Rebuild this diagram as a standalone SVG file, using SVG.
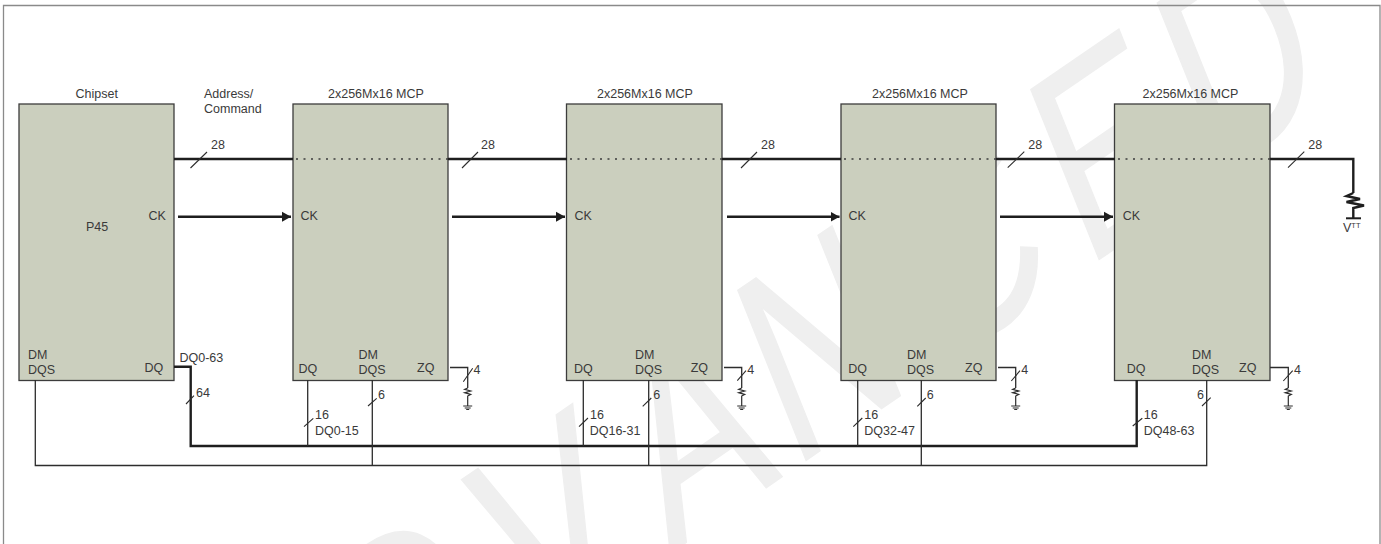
<svg xmlns="http://www.w3.org/2000/svg" width="1381" height="544" viewBox="0 0 1381 544">
<defs>
<style>
text{font-family:"Liberation Sans",Arial,sans-serif;font-size:12.5px;fill:#3a3a3a}
text.wm{font-size:100px;fill:#efefef;stroke:#efefef;stroke-width:.6}
.box{fill:#cbcfbe;stroke:#3c3c3c;stroke-width:1.3}
.thin,.bus,.tick,.res{fill:none;stroke:#2d2d2d}
.thin{stroke-width:1.3}.bus{stroke-width:2.4;stroke:#1e1e1e}.tick{stroke-width:1.1}.res{stroke-width:1.2}
.dots{stroke:#3c3c3c;stroke-width:1.3;stroke-dasharray:2 5.500;fill:none}
</style>
<marker id="arr" markerUnits="userSpaceOnUse" markerWidth="10" markerHeight="11" refX="9" refY="5.500" orient="auto"><path d="M0 0.500L9 5.500L0 10.500Z" fill="#1e1e1e"/></marker>
<g id="gnd"><path class="res" d="M0 0l-3 1.300 6 1.700-6 1.700 6 1.700-3 1.600V17.500M-4.500 18H4.500M-3 20H3M-1.500 21.500H1.500"/></g>
</defs>
<rect width="1381" height="544" fill="#fff"/>
<text class="wm" transform="matrix(1.69 -1.158 .992 2.469 805 461)" x="-331 -250 -163.300 -80 -7.600 79.100 165.800 240.600" y="0">ADVANCED</text>
<path d="M3.500 544V5.500H1380V544" fill="none" stroke="#8a8a8a" stroke-width="1.300"/>
<g id="chipset"><rect class="box" x="19" y="104" width="155" height="276.500"/><text x="75.500" y="98">Chipset</text><text x="86" y="231">P45</text><text x="148.500" y="220">CK</text><text x="28" y="359">DM</text><text x="28" y="374">DQS</text><text x="144.500" y="372">DQ</text></g>
<g id="mcp1"><rect class="box" x="293" y="104" width="155" height="276.500"/><text x="328" y="98">2x256Mx16 MCP</text><text x="300.500" y="220">CK</text><text x="298.500" y="373">DQ</text><text x="358.500" y="359">DM</text><text x="358.500" y="374">DQS</text><text x="417" y="372">ZQ</text></g>
<g id="mcp2"><rect class="box" x="566.500" y="104" width="155.500" height="276.500"/><text x="597" y="98">2x256Mx16 MCP</text><text x="574.500" y="220">CK</text><text x="574" y="373">DQ</text><text x="635" y="359">DM</text><text x="635" y="374">DQS</text><text x="690.700" y="372">ZQ</text></g>
<g id="mcp3"><rect class="box" x="841" y="104" width="155" height="276.500"/><text x="872" y="98">2x256Mx16 MCP</text><text x="848.500" y="220">CK</text><text x="848.300" y="373">DQ</text><text x="907" y="359">DM</text><text x="907" y="374">DQS</text><text x="965" y="372">ZQ</text></g>
<g id="mcp4"><rect class="box" x="1114.500" y="104" width="155.500" height="276.500"/><text x="1142.500" y="98">2x256Mx16 MCP</text><text x="1122.700" y="220">CK</text><text x="1126.700" y="373">DQ</text><text x="1192" y="359">DM</text><text x="1192" y="374">DQS</text><text x="1239" y="372">ZQ</text></g>
<g id="connectors">
<path class="bus" d="M174 159H293M448 159H567M722 159H841M996 159H1115M1270 159H1353.300V193"/>
<path class="dots" d="M296 159H448M570 159H722M844 159H996M1118 159H1270"/>
<path class="bus" d="M178 216.700H291" marker-end="url(#arr)"/><path class="bus" d="M452 216.700H565" marker-end="url(#arr)"/><path class="bus" d="M727 216.700H839.500" marker-end="url(#arr)"/><path class="bus" d="M1000 216.700H1113" marker-end="url(#arr)"/>
<path class="bus" d="M174 366.800H190.700V446H1136.700V380"/>
<path class="thin" d="M35.300 380V465.500H1206.700V380M307.700 380V446M372.300 380V465.500M583.300 380V446M648.700 380V465.500M857.700 380V446M921.300 380V465.500"/>
<path class="tick" d="M190.500 168L207 152M462 168L478 152M741 168L757 152M1007.700 167.700L1024.300 151.700M1288 167.700L1304.300 151.700"/>
<path class="tick" d="M186 404L194 395.700M304 426.700L313.300 418.300M368 406L376.700 398.300M579 426.700L588 418M642.700 406.300L651.300 398M853.300 426.700L862.300 418M917.300 406.300L925.700 398M1132.700 426L1142.300 418.300M1202 406L1210.700 397.700"/>
<path class="tick" d="M463.300 381.700L472.700 368.300M737.300 380.700L746 370.700M1011.300 381L1020 370.700M1283.300 381L1292.700 370.700"/>
<path class="thin" d="M450 367.500H467.700V388M724 367.500H741.700V388M998 367.500H1015.700V388M1270 367.500H1288.300V388"/>
<use href="#gnd" x="467.700" y="388"/><use href="#gnd" x="741.700" y="388"/><use href="#gnd" x="1015.700" y="388"/><use href="#gnd" x="1288.300" y="388"/>
<path class="bus" d="M1353.300 193L1346.500 196L1360 199L1346.500 202L1364 205.500L1353.300 208V218"/>
<path d="M1346 218.300H1361" stroke="#1e1e1e" stroke-width="2" fill="none"/>
</g>
<g id="labels">
<text x="204" y="98">Address/</text><text x="204" y="113">Command</text>
<text x="211" y="149">28</text><text x="481" y="149">28</text><text x="761" y="149">28</text><text x="1028.300" y="149">28</text><text x="1308.300" y="149">28</text>
<text x="179.500" y="362">DQ0-63</text><text x="196" y="397">64</text>
<text x="315" y="419">16</text><text x="315" y="435">DQ0-15</text><text x="378" y="399">6</text>
<text x="590" y="419">16</text><text x="589.700" y="435">DQ16-31</text><text x="653.300" y="399">6</text>
<text x="864.300" y="419">16</text><text x="864.300" y="435">DQ32-47</text><text x="926.700" y="399">6</text>
<text x="1143.700" y="419">16</text><text x="1143.700" y="435">DQ48-63</text><text x="1197" y="398.500">6</text>
<text x="473.500" y="374">4</text><text x="747.300" y="374">4</text><text x="1021.300" y="374">4</text><text x="1294" y="374">4</text>
<text x="1343" y="232">V<tspan font-size="7.500" dy="-4">TT</tspan></text>
</g>
</svg>
